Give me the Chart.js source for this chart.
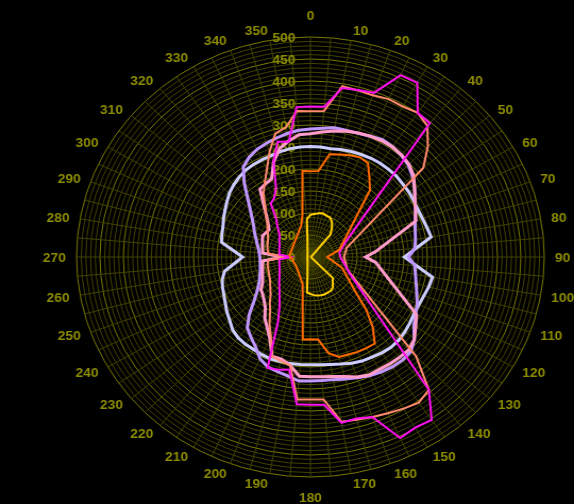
<!DOCTYPE html>
<html>
<head>
<meta charset="utf-8">
<script src="https://cdn.jsdelivr.net/npm/chart.js@4/dist/chart.umd.min.js"></script>
<style>
  html, body { margin: 0; padding: 0; background: #000; overflow: hidden; }
  #wrap { width: 540px; height: 504px; transform: scaleX(1.063); transform-origin: 0 0; }
</style>
</head>
<body>
<div id="wrap"><canvas id="chart"></canvas></div>
<script>
// angles every 5 degrees, clockwise from north
const angles = [];
for (let a = 0; a < 360; a += 5) angles.push(String(a));
const angleTicks = [0, 10, 20, 30, 40, 50, 60, 70, 80, 90, 100, 110, 120, 130, 140, 150, 160, 170,
                    180, 190, 200, 210, 220, 230, 240, 250, 260, 270, 280, 290, 300, 310, 320, 330, 340, 350];
const radialTicks = [0, 50, 100, 150, 200, 250, 300, 350, 400, 450, 500];

// series values, one per 5 degrees (null = straight chord across)
const yellow = [
  96, 98, 101, 103, 100, 99, 92, 80, 66, 8,
  4, 3, 3, 2, 2, 2, 2, 2, 2, 2,
  2, 2, 2, 2, 3, 3, 5, 68, 74, 84,
  88, 89, 90, 90, 89, 87, 84, 81, 36, 24,
  18, 14, 12, 11, 10, 9, 8, 8, 7, 7,
  7, 6, 6, 6, 6, 6, 6, 6, 7, 7,
  7, 7, 8, 9, 10, 11, 12, 14, 18, 24,
  36, 86
];
const orange = [
  195, 196, 237, 241, 246, 250, 246, 220, 198, null,
  null, null, null, null, null, 64, null, null, 36, null,
  null, null, 72, null, null, null, 128, 168, 207, 240,
  239, 238, 236, 235, 222, 188, 187, 188, 95, 64,
  null, null, null, null, null, null, null, 37, null, null,
  null, null, null, null, null, 45, null, null, null, null,
  null, null, null, null, 50, null, null, null, null, 75,
  98, 196
];
const magenta = [
  342, 343, 390, 393, 397, 456, 457, 400, 397, null,
  null, null, null, 84, null, null, 63, null, 64, null,
  null, null, null, 94, null, null, null, null, 394, 452,
  448, 454, 387, 380, 383, 337, 336, 336, 260, 265,
  268, 165, 132, 115, 103, 94, 87, 81, 76, 73,
  70, 69, 67, 67, 42, 67, 67, 69, 70, 73,
  77, 80, 88, 100, 114, 148, 155, 174, 231, 271,
  266, 342
];
const salmon = [
  331, 333, 394, 392, 391, 396, 395, 400, 389, 355,
  315, null, null, null, null, 80, null, null, 72, null,
  null, null, 84, null, null, null, null, 320, 394, 404,
  398, 392, 387, 383, 380, 325, 324, 325, 250, 245,
  240, 200, 175, 150, 135, 120, 112, 105, 100, 97,
  95, 94, 93, 90, 55, 90, 93, 95, 97, 100,
  105, 112, 120, 135, 150, 175, 195, 220, 255, 290,
  300, 333
];
const pink = [
  280, 285, 291, 296, 300, 303, 305, 305, 303, 298,
  288, 272, 258, 248, 240, null, null, 140, 118, 140,
  null, null, null, null, 262, 275, 290, 298, 297, 296,
  295, 296, 290, 281, 276, 273, 272, 272, 250, 240,
  240, 205, 185, 170, 150, 140, 133, 129, 118, 113,
  109, 106, 104, 103, 60, 103, 104, 106, 109, 113,
  110, 108, 118, 133, 155, 188, 192, 196, 230, 255,
  268, 279
];
const violet = [
  291, 294, 298, 298, 299, 303, 308, 306, 302, 296,
  285, 272, 258, 248, 238, 232, 228, 224, 210, 224,
  228, 234, 242, 252, 260, 270, 290, 304, 306, 305,
  302, 298, 292, 287, 283, 282, 282, 283, 275, 270,
  266, 255, 235, 222, 210, 185, 158, 140, 128, 120,
  115, 111, 109, 108, 108, 110, 113, 118, 124, 132,
  140, 152, 168, 190, 220, 250, 262, 270, 275, 280,
  285, 289
];
const lavender = [
  251, 251, 250, 253, 255, 257, 259, 260, 260, 260,
  258, 257, 255, 254, 255, 258, 262, null, 201, null,
  265, 262, 258, 256, 256, 260, 264, 267, 268, 266,
  263, 261, 257, 252, 248, 246, 245, 245, 246, 246,
  247, 245, 243, 242, 240, 235, 225, 218, 210, 204,
  200, 195, 186, null, 145, null, 193, 196, 199, 205,
  211, 218, 226, 232, 237, 241, 243, 244, 245, 248,
  250, 251
];

const labelColor = '#8c8c00';
const minorGrid = '#434300';
const majorGrid = '#7a7a00';

function series(data, color, width) {
  return { data, borderColor: color, borderWidth: width, backgroundColor: 'transparent',
           fill: false, pointRadius: 0, tension: 0 };
}

// tick and angle labels drawn at scale positions
const polarLabels = {
  id: 'polarLabels',
  beforeDatasetsDraw(chart) {
    const s = chart.scales.r;
    const ctx = chart.ctx;
    ctx.save();
    ctx.fillStyle = labelColor;
    ctx.font = 'bold 13px "Liberation Sans", Arial, sans-serif';
    ctx.textAlign = 'right';
    ctx.textBaseline = 'middle';
    radialTicks.forEach((v) => {
      ctx.fillText(String(v), s.xCenter - 14, s.yCenter - s.getDistanceFromCenterForValue(v) + 1);
    });
    angleTicks.forEach((a) => {
      const rad = a * Math.PI / 180;
      const sn = Math.sin(rad), cs = Math.cos(rad);
      const p = s.getPointPosition(a / 5, s.drawingArea + 10);
      let y = p.y;
      if (sn > 0.05) ctx.textAlign = 'left';
      else if (sn < -0.05) ctx.textAlign = 'right';
      else { ctx.textAlign = 'center'; y += cs > 0 ? -12 : 10; }
      ctx.fillText(String(a), p.x, y + 1);
    });
    ctx.restore();
  }
};

new Chart(document.getElementById('chart'), {
  type: 'radar',
  data: {
    labels: angles,
    datasets: [
      series(yellow, '#ffd000', 2),
      series(orange, '#ff6a00', 2),
      series(magenta, '#ff10f0', 2),
      series(salmon, '#ff8a70', 2),
      series(pink, '#ff9ccc', 3),
      series(violet, '#bf96ff', 3),
      series(lavender, '#ccccff', 3)
    ]
  },
  options: {
    responsive: true,
    maintainAspectRatio: false,
    animation: false,
    devicePixelRatio: 1,
    spanGaps: true,
    layout: { padding: { top: 37, bottom: 27, left: 72, right: 28 } },
    plugins: { legend: { display: false }, tooltip: { enabled: false } },
    scales: {
      r: {
        min: 0, max: 500,
        ticks: { display: false, stepSize: 10 },
        grid: { circular: true, lineWidth: 1,
                color: (ctx) => (ctx.tick && ctx.tick.value % 50 === 0) ? majorGrid : minorGrid },
        angleLines: { color: minorGrid, lineWidth: 1 },
        pointLabels: { display: false }
      }
    }
  },
  plugins: [polarLabels]
});
</script>
</body>
</html>
